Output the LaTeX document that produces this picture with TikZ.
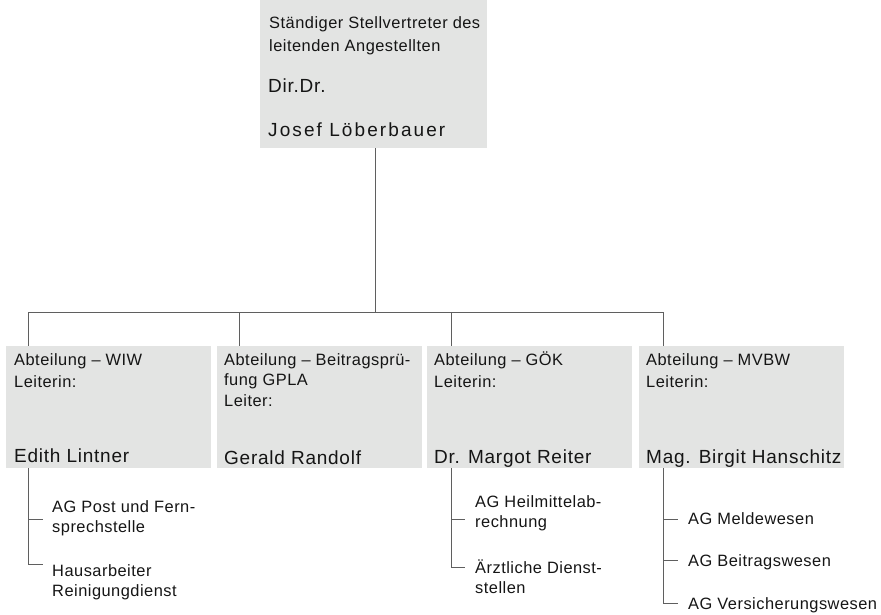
\documentclass[tikz,border=0pt]{standalone}
\usepackage{fontspec}
\setmainfont{Liberation Sans}
\newfontfamily\orgfont[LetterSpace=3]{Liberation Sans}
\newfontfamily\namefont[LetterSpace=4]{Liberation Sans}
\newfontfamily\chieffont[LetterSpace=11]{Liberation Sans}
\usetikzlibrary{positioning}
\definecolor{boxgray}{HTML}{E3E4E3}
\definecolor{linegray}{HTML}{5F5F5F}
\definecolor{textdark}{HTML}{151515}

\begin{document}
\begin{tikzpicture}[x=1pt,y=-1pt,
    box/.style={fill=boxgray, inner sep=0pt, minimum width=205pt, minimum height=122pt},
    txt/.style={anchor=base west, inner sep=0pt, text=textdark, font=\orgfont\fontsize{16.4}{18}\selectfont},
    bigtxt/.style={txt, font=\namefont\fontsize{19}{22}\selectfont},
    conn/.style={draw=linegray, line width=1pt}]
    \useasboundingbox (0,0) rectangle (881,615);

    % leitung
    \node[box, anchor=north west, minimum width=227pt, minimum height=148pt] (chef) at (260,0) {};
    \node[txt] (chef_1) at (269,29) {Ständiger Stellvertreter des};
    \node[txt] (chef_2) at (269,52) {leitenden Angestellten};
    \node[bigtxt] (chef_3) at (268,93) {Dir.Dr.};
    \node[bigtxt, font=\chieffont\fontsize{19}{22}\selectfont] (chef_4) at (268,137) {Josef Löberbauer};

    % abteilungen
    \node[box, anchor=north west] (abt_wiw) at (6,346) {};
    \node[box] (abt_gpla) [right=5pt of abt_wiw] {};
    \node[box] (abt_goek) [right=5pt of abt_gpla] {};
    \node[box] (abt_mvbw) [right=7pt of abt_goek] {};

    \node[txt] (wiw_1) at (14,365) {Abteilung – WIW};
    \node[txt] (wiw_2) at (14,387) {Leiterin:};
    \node[bigtxt] (wiw_name) at (14,462) {Edith Lintner};

    \node[txt] (gpla_1) at (224,365) {Abteilung – Beitragsprü-};
    \node[txt] (gpla_2) at (224,385) {fung GPLA};
    \node[txt] (gpla_3) at (224,406) {Leiter:};
    \node[bigtxt] (gpla_name) at (224,464) {Gerald Randolf};

    \node[txt] (goek_1) at (434,365) {Abteilung – GÖK};
    \node[txt] (goek_2) at (434,387) {Leiterin:};
    \node[bigtxt] (goek_name) at (434,463) {Dr. Margot Reiter};

    \node[txt] (mvbw_1) at (646,365) {Abteilung – MVBW};
    \node[txt] (mvbw_2) at (646,387) {Leiterin:};
    \node[bigtxt] (mvbw_name) at (646,463) {Mag. Birgit Hanschitz};

    % arbeitsgruppen
    \node[txt] (wiw_ag1) at (52,512) {AG Post und Fern-};
    \node[txt] (wiw_ag1b) at (52,532) {sprechstelle};
    \node[txt] (wiw_ag2) at (52,576) {Hausarbeiter};
    \node[txt] (wiw_ag2b) at (52,596) {Reinigungdienst};

    \node[txt] (goek_ag1) at (475,507) {AG Heilmittelab-};
    \node[txt] (goek_ag1b) at (475,527) {rechnung};
    \node[txt] (goek_ag2) at (475,573) {Ärztliche Dienst-};
    \node[txt] (goek_ag2b) at (475,593) {stellen};

    \node[txt] (mvbw_ag1) at (688,524) {AG Meldewesen};
    \node[txt] (mvbw_ag2) at (688,566) {AG Beitragswesen};
    \node[txt] (mvbw_ag3) at (688,609) {AG Versicherungswesen};

    % verbindungen
    \coordinate (bus) at (375,312);
    \coordinate (wiw_in) at (28,346);
    \coordinate (gpla_in) at (239,346);
    \coordinate (goek_in) at (451,346);
    \coordinate (mvbw_in) at (663,346);
    \draw[conn] (chef.south -| bus) -- (bus);
    \draw[conn] (wiw_in |- bus) -- (mvbw_in |- bus);
    \foreach \abt in {wiw,gpla,goek,mvbw}
        \draw[conn] (\abt_in |- bus) -- (\abt_in);

    \coordinate (wiw_t1) at (43,519);
    \coordinate (wiw_t2) at (43,564);
    \draw[conn] (wiw_in |- abt_wiw.south) |- (wiw_t2);
    \draw[conn] (wiw_in |- wiw_t1) -- (wiw_t1);

    \coordinate (goek_t1) at (465,519);
    \coordinate (goek_t2) at (465,567);
    \draw[conn] (goek_in |- abt_goek.south) |- (goek_t2);
    \draw[conn] (goek_in |- goek_t1) -- (goek_t1);

    \coordinate (mvbw_t1) at (678,519);
    \coordinate (mvbw_t2) at (678,560);
    \coordinate (mvbw_t3) at (678,603);
    \draw[conn] (mvbw_in |- abt_mvbw.south) |- (mvbw_t3);
    \draw[conn] (mvbw_in |- mvbw_t1) -- (mvbw_t1);
    \draw[conn] (mvbw_in |- mvbw_t2) -- (mvbw_t2);
\end{tikzpicture}
\end{document}
